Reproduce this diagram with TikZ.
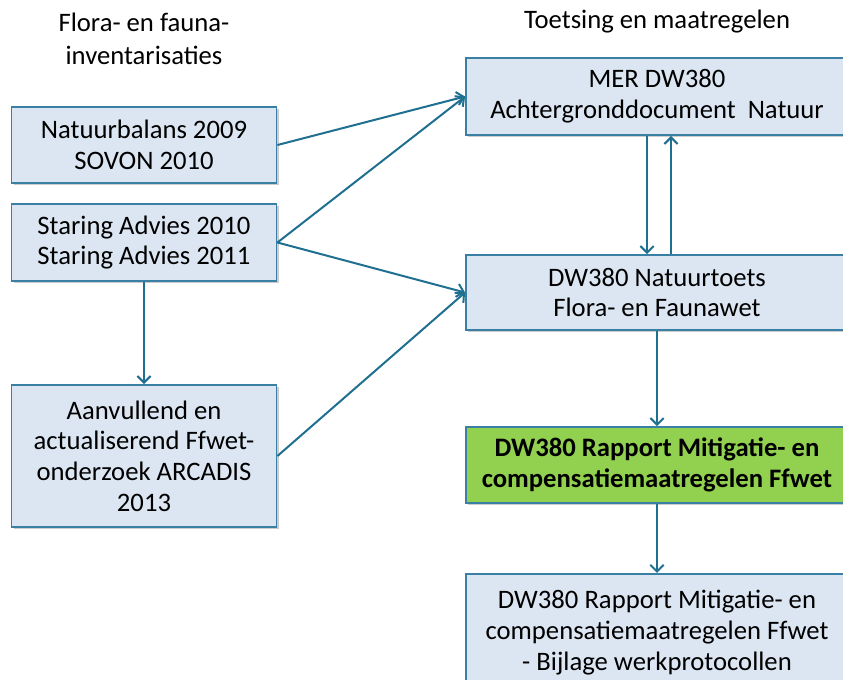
\documentclass[tikz,border=0pt]{standalone}
\usepackage{fontspec}
\setmainfont{Carlito}
\usetikzlibrary{arrows.meta,shadows}
\definecolor{boxblue}{HTML}{DCE6F2}
\definecolor{boxline}{HTML}{3A80A4}
\definecolor{arrowline}{HTML}{1F6F90}
\definecolor{mitgreen}{HTML}{92D050}
\begin{document}
\begin{tikzpicture}[x=0.75pt, y=-0.75pt]
			\tikzstyle{doc}    = [rectangle, draw=boxline, line width=1.4pt, fill=boxblue, align=center,
			                      font=\fontsize{20}{23}\selectfont, inner sep=1pt,
			                      drop shadow={shadow xshift=1.5pt, shadow yshift=-1.5pt, opacity=0.4}]
			\tikzstyle{kop}    = [align=center, font=\fontsize{20}{24.5}\selectfont]
			\tikzstyle{pijl}   = [draw=arrowline, line width=1.5pt, -{Straight Barb[length=5pt, width=10pt, line width=1.5pt]}]

			\useasboundingbox (0,0) rectangle (843,679);

%			headings
			\node[kop] (kopl) at (144, 39) {Flora- en fauna-\\inventarisaties};
			\node[kop] (kopr) at (657, 22) {Toetsing en maatregelen};

%			left column
			\node[doc, minimum width=198.75pt, minimum height=57pt] (nat) at (144, 145) {Natuurbalans 2009\\SOVON 2010};
			\node[doc, minimum width=198.75pt, minimum height=57.75pt] (sta) at (144, 242.5) {Staring Advies 2010\\Staring Advies 2011};
			\node[doc, minimum width=198.75pt, minimum height=106.5pt] (aan) at (144, 456) {Aanvullend en\\actualiserend Ffwet-\\onderzoek ARCADIS\\2013};

%			right column
			\node[doc, minimum width=286.5pt, minimum height=57.75pt] (mer) at (657, 96.5) {MER DW380\\Achtergronddocument~ Natuur};
			\node[doc, minimum width=286.5pt, minimum height=56.25pt] (toe) at (657, 292.5) {DW380 Natuurtoets\\Flora- en Faunawet};
			\node[doc, fill=mitgreen, minimum width=286.5pt, minimum height=57pt, font=\fontsize{20}{23}\selectfont\bfseries] (mit) at (657, 465) {DW380 Rapport Mitigatie- en\\compensatiemaatregelen Ffwet};
			\node[doc, minimum width=286.5pt, minimum height=88pt] (bij) at (657, 632.5) {DW380 Rapport Mitigatie- en\\compensatiemaatregelen Ffwet\\- Bijlage werkprotocollen};

			\foreach \from/\to in {nat/mer, sta/mer, sta/toe, aan/toe}
				\path[pijl] (\from.east) -- (\to.west);

			\foreach \from/\to in {sta/aan, toe/mit, mit/bij}
				\path[pijl] (\from.south) -- (\to.north);

			\path[pijl] ([xshift=-7.5pt]mer.south) -- ([xshift=-7.5pt]toe.north);
			\path[pijl] ([xshift=10.5pt]toe.north) -- ([xshift=10.5pt]mer.south);

		\end{tikzpicture}
\end{document}
